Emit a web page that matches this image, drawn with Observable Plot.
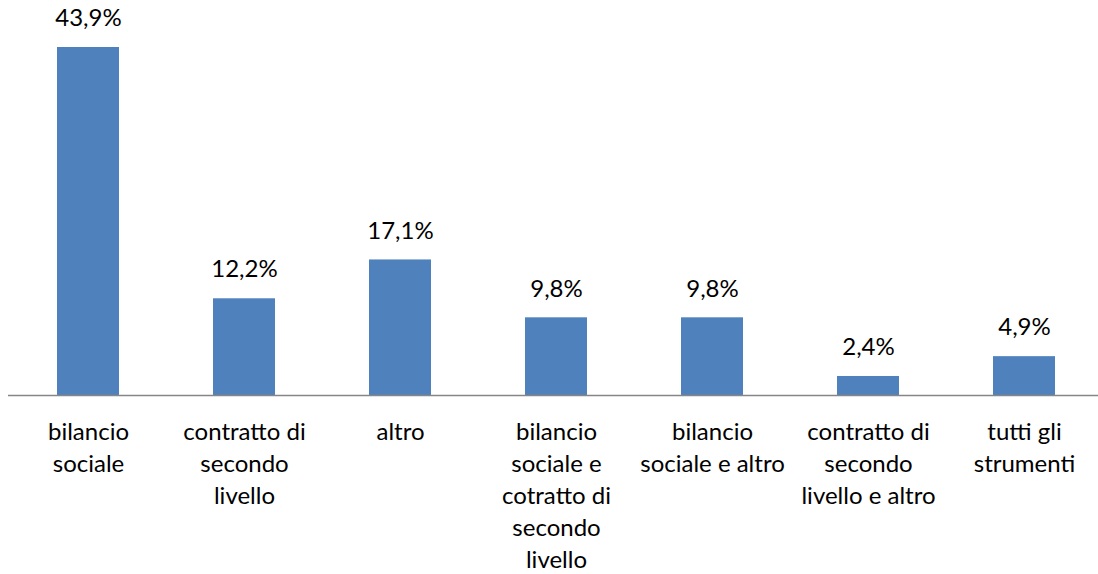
<!DOCTYPE html>
<html>
<head>
<meta charset="utf-8">
<script src="https://cdn.jsdelivr.net/npm/d3@7"></script>
<script src="https://cdn.jsdelivr.net/npm/@observablehq/plot@0.6"></script>
<style>
  html, body { margin: 0; padding: 0; background: #fff; }
  #chart svg { display: block; }
</style>
</head>
<body>
<div id="chart"></div>
<script>
const categories = [
  "bilancio\nsociale",
  "contratto di\nsecondo\nlivello",
  "altro",
  "bilancio\nsociale e\ncotratto di\nsecondo\nlivello",
  "bilancio\nsociale e altro",
  "contratto di\nsecondo\nlivello e altro",
  "tutti gli\nstrumenti"
];
const values = [43.9, 12.2, 17.1, 9.8, 9.8, 2.4, 4.9];
const valueLabels = ["43,9%", "12,2%", "17,1%", "9,8%", "9,8%", "2,4%", "4,9%"];

const data = categories.map((c, i) => ({cat: c, value: values[i], label: valueLabels[i]}));

const chart = Plot.plot({
  width: 1098,
  height: 574,
  marginLeft: 8,
  marginRight: 0,
  marginTop: 0,
  marginBottom: 0,
  style: {fontFamily: "Lato, 'Open Sans', sans-serif", fontSize: "24px", color: "#000", background: "#fff"},
  x: {domain: categories, range: [8, 1104], paddingInner: 0.6, paddingOuter: 0.3, axis: null},
  y: {domain: [0, 43.9], range: [395, 47], axis: null},
  marks: [
    Plot.barY(data, {x: "cat", y: "value", fill: "#4F81BD"}),
    Plot.ruleY([0], {stroke: "#868686", strokeWidth: 1.3}),
    Plot.text(data, {x: "cat", y: "value", text: "label", dy: -29, fontSize: 24, fill: "#000"}),
    Plot.text(data, {x: "cat", y: 0, text: "cat", dy: 22, lineAnchor: "top", lineHeight: 1.333, fontSize: 24, fill: "#000"})
  ]
});
document.getElementById("chart").appendChild(chart);
</script>
</body>
</html>
